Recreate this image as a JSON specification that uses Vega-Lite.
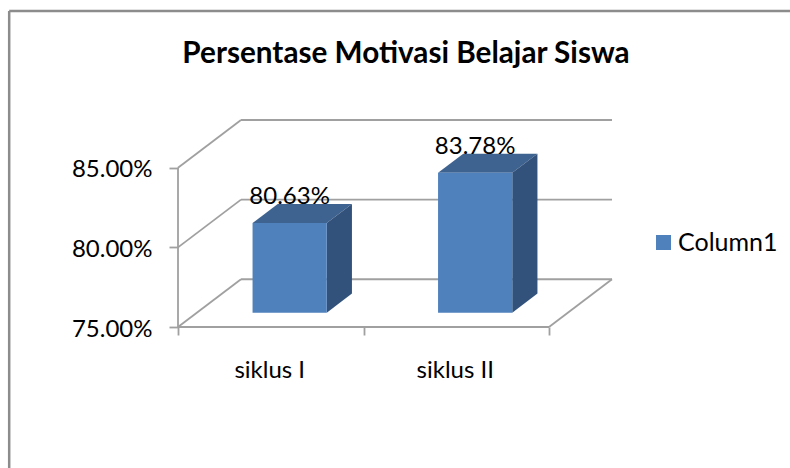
{
  "$schema": "https://vega.github.io/schema/vega-lite/v6.json",
  "width": 434,
  "height": 207,
  "autosize": {"type": "none"},
  "padding": {"left": 178, "top": 120, "right": 178, "bottom": 141},
  "background": "white",
  "config": {"view": {"stroke": null}, "axis": {"title": null, "grid": false, "domain": false}},
  "title": {"text": "Persentase Motivasi Belajar Siswa", "font": "Lato", "fontSize": 29.7, "fontWeight": "bold", "color": "#000000", "anchor": "middle", "frame": "group", "dx": 11, "offset": -60},
  "datasets": {
    "bars": [
      {"category": "siklus I", "pos": 0.5, "value": 0.8063, "series": "Column1"},
      {"category": "siklus II", "pos": 1.5, "value": 0.8378, "series": "Column1"}
    ],
    "levels": [{"level": 0.75}, {"level": 0.80}, {"level": 0.85}]
  },
  "layer": [
    {
      "data": {"name": "levels"},
      "transform": [{"calculate": "datum.level+0.03", "as": "back"}],
      "mark": {"type": "rule", "color": "#a0a0a0", "strokeWidth": 1.8},
      "encoding": {
        "x": {"datum": 0, "type": "quantitative", "scale": {"domain": [0, 2.3396], "nice": false, "zero": false},
          "axis": {"values": [0, 1, 2], "labels": false, "tickColor": "#a0a0a0", "tickSize": 8, "tickWidth": 1.8}},
        "x2": {"datum": 0.3396},
        "y": {"field": "level", "type": "quantitative", "scale": {"domain": [0.75, 0.88], "nice": false, "zero": false},
          "axis": {"values": [0.75, 0.8, 0.85], "format": ".2%", "tickColor": "#a0a0a0", "tickSize": 9, "tickWidth": 1.8, "labelFont": "Lato", "labelFontSize": 24, "labelColor": "#000000", "labelPadding": 17, "labelOffset": 2}},
        "y2": {"field": "back"}
      }
    },
    {
      "data": {"name": "levels"},
      "transform": [{"calculate": "datum.level+0.03", "as": "back"}],
      "mark": {"type": "rule", "color": "#a0a0a0", "strokeWidth": 1.8},
      "encoding": {
        "x": {"datum": 0.3396, "type": "quantitative"},
        "x2": {"datum": 2.3396},
        "y": {"field": "back", "type": "quantitative"}
      }
    },
    {
      "data": {"values": [{"x": 0, "x2": 2, "y": 0.75, "y2": 0.75}, {"x": 2, "x2": 2.3396, "y": 0.75, "y2": 0.78}, {"x": 0, "x2": 0, "y": 0.75, "y2": 0.85}]},
      "mark": {"type": "rule", "color": "#a0a0a0", "strokeWidth": 1.8},
      "encoding": {
        "x": {"field": "x", "type": "quantitative"},
        "x2": {"field": "x2"},
        "y": {"field": "y", "type": "quantitative"},
        "y2": {"field": "y2"}
      }
    },
    {
      "data": {"values": [{"x": -0.91, "x2": 3.3, "y": 0.9485, "y2": 0.9485}, {"x": -0.91, "x2": -0.91, "y": 0.9485, "y2": 0.66}]},
      "mark": {"type": "rule", "color": "#8c8c8c", "strokeWidth": 2.5},
      "encoding": {
        "x": {"field": "x", "type": "quantitative"},
        "x2": {"field": "x2"},
        "y": {"field": "y", "type": "quantitative"},
        "y2": {"field": "y2"}
      }
    },
    {
      "data": {"name": "bars"},
      "transform": [
        {"calculate": "[0,1,2,3]", "as": "t"},
        {"flatten": ["t"]},
        {"calculate": "datum.pos+0.1019-0.2+[0,0.1358,0.4,0.5358][datum.t]", "as": "xv"},
        {"calculate": "datum.value+0.009+[0,0.012,0.012,0.012][datum.t]", "as": "y1"},
        {"calculate": "datum.value+0.009+[0,0,0,0.012][datum.t]", "as": "y0"}
      ],
      "mark": {"type": "area", "color": "#3e6390", "interpolate": "linear"},
      "encoding": {
        "x": {"field": "xv", "type": "quantitative"},
        "y": {"field": "y1", "type": "quantitative", "stack": null},
        "y2": {"field": "y0"},
        "detail": {"field": "category"}
      }
    },
    {
      "data": {"name": "bars"},
      "transform": [
        {"calculate": "[0,1]", "as": "t"},
        {"flatten": ["t"]},
        {"calculate": "datum.pos+0.1019+0.2+datum.t*0.1358", "as": "xv"},
        {"calculate": "datum.value+0.009+datum.t*0.012", "as": "y1"},
        {"calculate": "0.759+datum.t*0.012", "as": "y0"}
      ],
      "mark": {"type": "area", "color": "#32527b", "interpolate": "linear"},
      "encoding": {
        "x": {"field": "xv", "type": "quantitative"},
        "y": {"field": "y1", "type": "quantitative", "stack": null},
        "y2": {"field": "y0"},
        "detail": {"field": "category"}
      }
    },
    {
      "data": {"name": "bars"},
      "transform": [
        {"calculate": "datum.pos+0.1019-0.2", "as": "x0"},
        {"calculate": "datum.pos+0.1019+0.2", "as": "x1"},
        {"calculate": "datum.value+0.009", "as": "top"},
        {"calculate": "0.759", "as": "bottom"}
      ],
      "mark": {"type": "rect"},
      "encoding": {
        "x": {"field": "x0", "type": "quantitative"},
        "x2": {"field": "x1"},
        "y": {"field": "top", "type": "quantitative"},
        "y2": {"field": "bottom"},
        "color": {"field": "series", "type": "nominal", "scale": {"range": ["#4f81bd"]},
          "legend": {"title": null, "orient": "none", "legendX": 473, "legendY": 110, "symbolType": "square", "symbolSize": 225, "symbolStrokeWidth": 0, "labelFont": "Lato", "labelFontSize": 25, "labelColor": "#000000", "labelOffset": 2, "padding": 0}}
      }
    },
    {
      "data": {"name": "bars"},
      "transform": [
        {"calculate": "datum.pos+0.1019", "as": "xc"},
        {"calculate": "datum.value+0.021", "as": "yt"}
      ],
      "mark": {"type": "text", "font": "Lato", "fontSize": 24, "color": "#000000", "align": "center", "baseline": "alphabetic", "dy": 0},
      "encoding": {
        "x": {"field": "xc", "type": "quantitative"},
        "y": {"field": "yt", "type": "quantitative"},
        "text": {"field": "value", "type": "quantitative", "format": ".2%"}
      }
    },
    {
      "data": {"name": "bars"},
      "mark": {"type": "text", "font": "Lato", "fontSize": 24, "color": "#000000", "align": "center", "baseline": "middle", "dy": 44, "dx": -1},
      "encoding": {
        "x": {"field": "pos", "type": "quantitative"},
        "y": {"datum": 0.75, "type": "quantitative"},
        "text": {"field": "category", "type": "nominal"}
      }
    }
  ]
}
